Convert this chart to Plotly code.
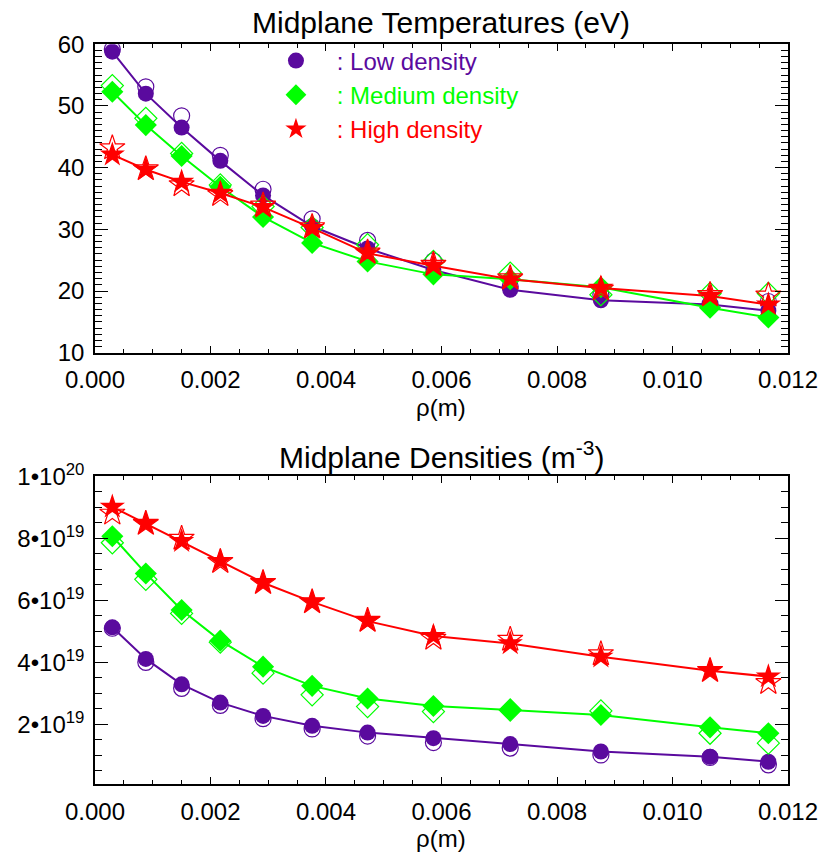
import plotly.graph_objects as go

# ---- data ----
rho = [0.00030, 0.00088, 0.00150, 0.00217, 0.00291, 0.00376,
       0.00472, 0.00586, 0.00719, 0.00876, 0.01065, 0.01166]

te_low = [58.8, 52.0, 46.5, 41.1, 35.5, 30.5, 26.9, 23.4, 20.2, 18.5, 17.8, 16.8]
te_low_open = [59.2, 53.1, 48.4, 42.0, 36.5, 31.7, 28.2, 24.9, 20.7, 19.4, 17.9, 18.3]
te_med = [52.3, 46.9, 41.9, 36.9, 32.0, 27.8, 24.8, 22.7, 21.9, 20.6, 17.3, 15.7]
te_med_open = [53.3, 48.0, 42.3, 37.2, 33.7, 30.3, 27.5, 24.8, 22.9, 19.4, 19.6, 19.6]
te_high = [42.1, 39.7, 37.7, 35.9, 33.6, 30.2, 26.1, 24.1, 21.9, 20.5, 19.2, 17.8]
te_high_open = [43.2, 39.8, 37.2, 35.6, 33.9, 30.4, 26.3, 24.3, 22.1, 20.3, 19.4, 19.3]

# densities in units of 1e19 m^-3
n_low = [5.13, 4.11, 3.29, 2.70, 2.27, 1.95, 1.73, 1.55, 1.36, 1.12, 0.95, 0.79]
n_low_open = [5.10, 4.00, 3.16, 2.61, 2.18, 1.85, 1.62, 1.41, 1.23, 1.01, 0.93, 0.69]
n_med = [8.07, 6.87, 5.69, 4.70, 3.86, 3.24, 2.83, 2.59, 2.46, 2.30, 1.90, 1.71]
n_med_open = [7.86, 6.68, 5.58, 4.65, 3.65, 2.95, 2.57, 2.41, 2.46, 2.43, 1.71, 1.39]
n_high = [9.02, 8.48, 7.91, 7.27, 6.57, 5.95, 5.33, 4.85, 4.61, 4.18, 3.73, 3.54]
n_high_open = [8.81, 8.48, 8.00, 7.25, 6.57, 5.95, 5.35, 4.77, 4.74, 4.27, 3.73, 3.34]

dens_tickvals = [2, 4, 6, 8, 10]
dens_mantissa = ["2", "4", "6", "8", "1"]
dens_exponent = ["19", "19", "19", "19", "20"]
dens_ticktext = ["%s•10<sup>%s</sup>" % (m, e) for m, e in zip(dens_mantissa, dens_exponent)]

series_names = ["Low density", "Medium density", "High density"]
colors = ["#5a0a9e", "#00ff00", "#ff0000"]
symbols = ["circle", "diamond", "star"]
sizes = [16, 17, 19]

FONT = "Liberation Sans, Arial, Helvetica, sans-serif"

fig = go.Figure()

temp_sets = [(te_low, te_low_open), (te_med, te_med_open), (te_high, te_high_open)]
dens_sets = [(n_low, n_low_open), (n_med, n_med_open), (n_high, n_high_open)]

for i in range(3):
    for (vals, vals_open), xa, ya, leg in [(temp_sets[i], "x", "y", True),
                                           (dens_sets[i], "x2", "y2", False)]:
        fig.add_trace(go.Scatter(
            x=rho, y=vals_open, xaxis=xa, yaxis=ya, mode="markers",
            marker=dict(symbol=symbols[i] + "-open", size=sizes[i], color=colors[i],
                        line=dict(width=1.2, color=colors[i])),
            showlegend=False, hoverinfo="skip"))
        fig.add_trace(go.Scatter(
            x=rho, y=vals, xaxis=xa, yaxis=ya, mode="lines",
            line=dict(color=colors[i], width=2), showlegend=False))
        fig.add_trace(go.Scatter(
            x=rho, y=vals, xaxis=xa, yaxis=ya, mode="markers",
            marker=dict(symbol=symbols[i], size=sizes[i], color=colors[i], line=dict(width=0)),
            name='<span style="color:%s">&nbsp;&nbsp;: %s</span>' % (colors[i], series_names[i]),
            showlegend=leg))

axis_common = dict(
    showline=True, linecolor="black", linewidth=1.5, mirror="allticks",
    ticks="inside", tickcolor="black", showgrid=False, zeroline=False,
    automargin=False,
    tickfont=dict(family=FONT, size=24, color="black"),
)

xcommon = dict(axis_common, range=[0, 0.012], dtick=0.002, tick0=0, tickformat=".3f",
               ticklen=7, tickwidth=1.2,
               minor=dict(ticks="inside", dtick=0.0005, ticklen=4, tickcolor="black", tickwidth=1),
               ticklabelstandoff=5)

TITLE_FONT = dict(family=FONT, size=30, color="black")
AXT_FONT = dict(family=FONT, size=24, color="black")

fig.update_layout(
    width=826, height=855,
    margin=dict(l=0, r=0, t=0, b=0, autoexpand=False),
    paper_bgcolor="white", plot_bgcolor="white",
    font=dict(family=FONT, color="black"),
    xaxis=dict(xcommon, domain=[0.115, 0.954], anchor="y"),
    yaxis=dict(axis_common, domain=[0.5875, 0.9482], anchor="x", range=[10, 60],
               dtick=10, tick0=0, ticklen=13, tickwidth=1.2,
               minor=dict(ticks="inside", dtick=1, ticklen=7, tickcolor="black", tickwidth=1),
               ticklabelstandoff=4),
    xaxis2=dict(xcommon, domain=[0.115, 0.954], anchor="y2"),
    yaxis2=dict(axis_common, domain=[0.0830, 0.4427], anchor="x2", range=[0.07, 10],
                tickvals=dens_tickvals, ticktext=dens_ticktext, ticklen=13, tickwidth=1.2,
                minor=dict(ticks="inside", dtick=0.5, tick0=0, ticklen=7, tickcolor="black", tickwidth=1),
                ticklabelstandoff=4),
    legend=dict(x=0.325, y=0.955, xanchor="left", yanchor="top",
                font=dict(family=FONT, size=24), bgcolor="rgba(0,0,0,0)",
                itemsizing="trace", itemwidth=45, tracegroupgap=0),
    annotations=[
        dict(text="Midplane Temperatures (eV)", x=0.534, y=1 - 22 / 855, xref="paper", yref="paper",
             showarrow=False, xanchor="center", yanchor="middle", font=TITLE_FONT),
        dict(text="Midplane Densities (m<sup>-3</sup>)", x=0.534, y=1 - 455 / 855, xref="paper", yref="paper",
             showarrow=False, xanchor="center", yanchor="middle", font=TITLE_FONT),
        dict(text="ρ(m)", x=0.534, y=1 - 408 / 855, xref="paper", yref="paper",
             showarrow=False, xanchor="center", yanchor="middle", font=AXT_FONT),
        dict(text="ρ(m)", x=0.534, y=1 - 838 / 855, xref="paper", yref="paper",
             showarrow=False, xanchor="center", yanchor="middle", font=AXT_FONT),
    ],
)

fig.write_html("out.html")
